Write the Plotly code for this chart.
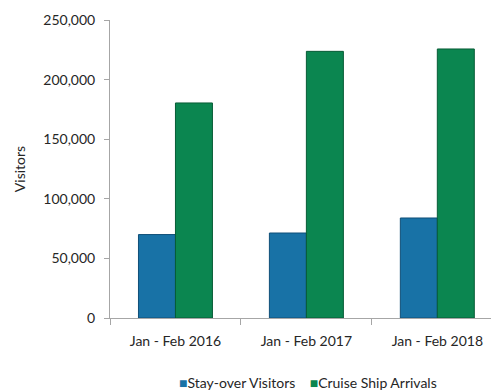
import plotly.graph_objects as go

periods = ["Jan - Feb 2016", "Jan - Feb 2017", "Jan - Feb 2018"]
series_names = ["Stay-over Visitors", "Cruise Ship Arrivals"]
stay_over = [70000, 71300, 83900]
cruise = [180400, 223700, 225700]
y_ticks = [0, 50000, 100000, 150000, 200000, 250000]
y_tick_text = ["0", "50,000", "100,000", "150,000", "200,000", "250,000"]

series_colors = ["#1872a6", "#0b8650"]
edge_colors = ["#0f4f78", "#075c36"]
font_family = "Lato, Open Sans, sans-serif"
axis_grey = "#a6a6a6"

fig = go.Figure()
for name, values, fill, edge in zip(series_names, [stay_over, cruise], series_colors, edge_colors):
    fig.add_trace(go.Bar(
        name=name, x=periods, y=values,
        marker=dict(color=fill, line=dict(color=edge, width=1)),
    ))

# compact legend row: coloured square glyph followed by the series name
legend_text = "&nbsp;&nbsp;&nbsp;&nbsp;".join(
    f'<span style="color:{c}">■</span>{n}' for n, c in zip(series_names, series_colors)
)
fig.add_annotation(
    text=legend_text, xref="paper", yref="paper", x=0.52, y=-0.215,
    xanchor="center", yanchor="middle", showarrow=False,
    font=dict(family=font_family, size=14, color="#262626"),
)

fig.update_layout(
    width=491, height=391,
    margin=dict(l=110, r=0, t=20, b=73),
    paper_bgcolor="white", plot_bgcolor="white",
    barmode="group", bargap=0.435, bargroupgap=0,
    font=dict(family=font_family, size=14, color="#262626"),
    showlegend=False,
    xaxis=dict(
        range=[-0.5, 2.41], showline=True, linecolor=axis_grey, linewidth=1,
        ticks="outside", tickson="boundaries", ticklen=6, tickcolor=axis_grey,
        ticklabelstandoff=10,
        showgrid=False, zeroline=False, fixedrange=True,
    ),
    yaxis=dict(
        range=[0, 250000], tickvals=y_ticks, ticktext=y_tick_text,
        showline=True, linecolor=axis_grey, linewidth=1,
        ticks="outside", ticklen=5, tickcolor=axis_grey,
        ticklabelstandoff=6,
        showgrid=False, zeroline=False,
        title=dict(text="Visitors", standoff=14, font=dict(size=14)),
    ),
)

fig.write_html("out.html")
